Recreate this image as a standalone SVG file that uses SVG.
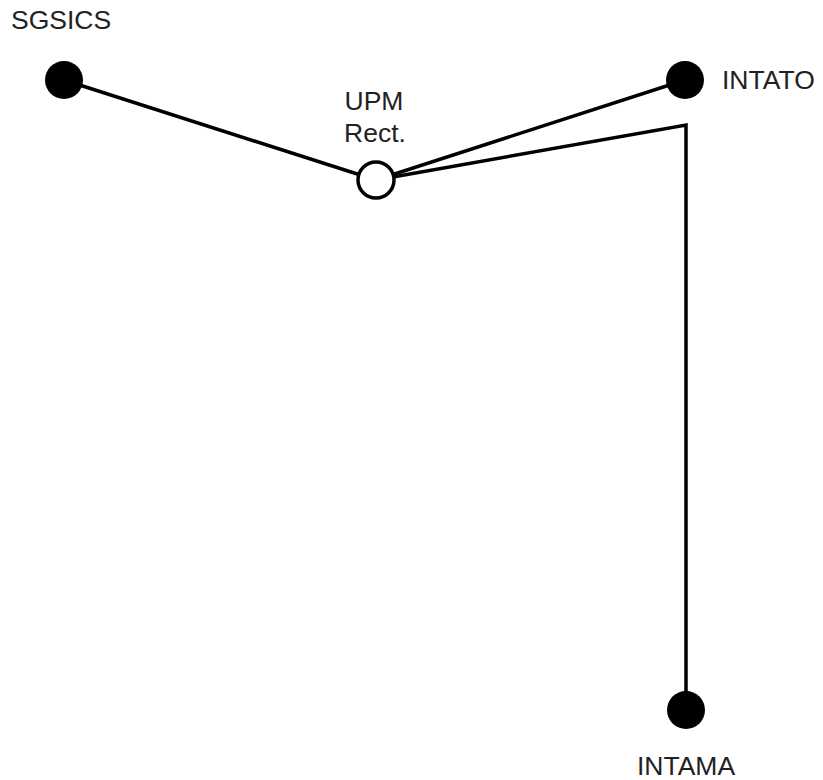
<svg xmlns="http://www.w3.org/2000/svg" width="823" height="780" viewBox="0 0 823 780">
<style>
.lbl{font-family:"Liberation Sans",Arial,sans-serif;font-size:26.5px;fill:#222}
.edge{stroke:#000;stroke-width:3.5;fill:none;stroke-linejoin:miter}
.full{fill:#000}
.open{fill:#fff;stroke:#000;stroke-width:3.5}
</style>
<rect width="823" height="780" fill="#fff"/>
<g id="connectors">
<line class="edge" x1="64" y1="80" x2="376" y2="180"/>
<line class="edge" x1="376" y1="180" x2="685" y2="80"/>
<polyline class="edge" points="376,180 686,125 686,710"/>
</g>
<g id="SGSICS"><circle class="full" cx="64" cy="80" r="19"/><text class="lbl" x="11" y="29">SGSICS</text></g>
<g id="UPM"><circle class="open" cx="376" cy="180" r="18"/><text class="lbl" x="374" y="110" text-anchor="middle">UPM</text><text class="lbl" x="375" y="142" text-anchor="middle">Rect.</text></g>
<g id="INTATO"><circle class="full" cx="685" cy="80" r="19"/><text class="lbl" x="722" y="89">INTATO</text></g>
<g id="INTAMA"><circle class="full" cx="686" cy="710" r="19"/><text class="lbl" x="686" y="775" text-anchor="middle">INTAMA</text></g>
</svg>
